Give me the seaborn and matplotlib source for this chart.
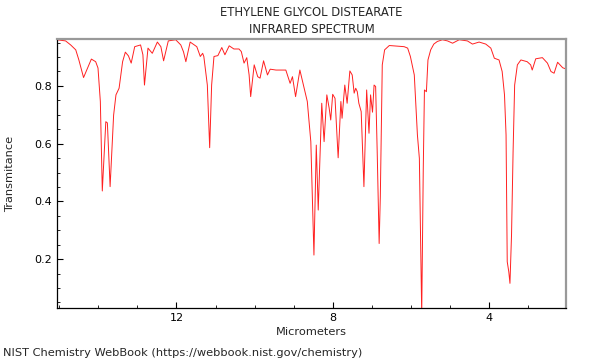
import matplotlib
matplotlib.use("Agg")
import matplotlib.pyplot as plt
from matplotlib.ticker import MultipleLocator
import pandas as pd
import seaborn as sns

# values
micrometers = [
    15.07, 14.84, 14.71, 14.58, 14.50, 14.38, 14.28, 14.18, 14.07, 14.01,
    13.95, 13.90, 13.81, 13.77, 13.70, 13.61, 13.55, 13.47, 13.38, 13.31,
    13.23, 13.16, 13.07, 12.92, 12.86, 12.82, 12.73, 12.62, 12.49, 12.40,
    12.33, 12.21, 12.02, 11.89, 11.82, 11.76, 11.65, 11.48, 11.39, 11.33,
    11.30, 11.21, 11.15, 11.10, 11.04, 10.94, 10.84, 10.76, 10.65, 10.53,
    10.40, 10.34, 10.27, 10.20, 10.14, 10.10, 10.01, 9.92, 9.86, 9.77,
    9.67, 9.60, 9.45, 9.20, 9.09, 9.03, 8.95, 8.84, 8.73, 8.65,
    8.56, 8.48, 8.42, 8.37, 8.28, 8.22, 8.15, 8.09, 8.05, 8.00,
    7.94, 7.86, 7.79, 7.76, 7.69, 7.63, 7.56, 7.50, 7.45, 7.41,
    7.37, 7.33, 7.27, 7.20, 7.13, 7.07, 7.03, 6.98, 6.94, 6.90,
    6.86, 6.81, 6.78, 6.75, 6.73, 6.67, 6.55, 6.17, 6.08, 6.01,
    5.91, 5.83, 5.78, 5.72, 5.68, 5.65, 5.60, 5.56, 5.49, 5.41,
    5.32, 5.19, 5.06, 4.93, 4.76, 4.55, 4.42, 4.25, 4.08, 3.95,
    3.86, 3.74, 3.66, 3.60, 3.56, 3.53, 3.49, 3.46, 3.42, 3.38,
    3.34, 3.27, 3.18, 3.02, 2.93, 2.89, 2.80, 2.63, 2.50, 2.41,
    2.33, 2.24, 2.11, 2.03,
]
transmittance = [
    0.960, 0.956, 0.942, 0.925, 0.890, 0.829, 0.861, 0.893, 0.884, 0.862,
    0.746, 0.436, 0.676, 0.672, 0.451, 0.699, 0.769, 0.792, 0.884, 0.917,
    0.904, 0.879, 0.936, 0.942, 0.908, 0.803, 0.931, 0.913, 0.952, 0.936,
    0.887, 0.956, 0.960, 0.942, 0.918, 0.884, 0.952, 0.936, 0.902, 0.913,
    0.902, 0.803, 0.586, 0.803, 0.902, 0.905, 0.933, 0.908, 0.939, 0.928,
    0.928, 0.919, 0.879, 0.898, 0.838, 0.763, 0.873, 0.832, 0.827, 0.887,
    0.838, 0.858, 0.855, 0.855, 0.809, 0.832, 0.763, 0.855, 0.792, 0.746,
    0.607, 0.214, 0.595, 0.370, 0.740, 0.607, 0.769, 0.723, 0.682, 0.771,
    0.757, 0.551, 0.746, 0.688, 0.803, 0.740, 0.852, 0.838, 0.775, 0.792,
    0.780, 0.740, 0.711, 0.451, 0.786, 0.636, 0.769, 0.709, 0.803, 0.798,
    0.572, 0.254, 0.416, 0.689, 0.873, 0.925, 0.940, 0.936, 0.931, 0.902,
    0.838, 0.630, 0.549, 0.010, 0.515, 0.786, 0.780, 0.890, 0.925, 0.945,
    0.954, 0.960, 0.956, 0.948, 0.960, 0.956, 0.945, 0.952, 0.945, 0.931,
    0.896, 0.890, 0.850, 0.769, 0.630, 0.191, 0.156, 0.116, 0.283, 0.572,
    0.803, 0.873, 0.890, 0.884, 0.873, 0.855, 0.894, 0.898, 0.879, 0.850,
    0.844, 0.882, 0.863, 0.859,
]

df = pd.DataFrame({"um": micrometers, "T": transmittance})

sns.set_style("white")
plt.rcParams["font.family"] = ["DejaVu Sans"]

fig = plt.figure(figsize=(6, 3.6), dpi=100)
ax = fig.add_axes([0.095, 0.144, 0.848, 0.748])

sns.lineplot(data=df, x="um", y="T", sort=False, color="#ff2020", lw=0.7, ax=ax)

ax.set_xlim(15.06, 2.03)
ax.set_ylim(0.03, 0.963)
ax.xaxis.set_major_locator(MultipleLocator(4))
ax.xaxis.set_minor_locator(MultipleLocator(1))
ax.yaxis.set_major_locator(MultipleLocator(0.2))
ax.yaxis.set_minor_locator(MultipleLocator(0.05))
ax.tick_params(which="both", direction="in", bottom=True, left=True,
               top=False, right=False, labelsize=8, colors="black")
ax.tick_params(which="major", length=4, width=0.8)
ax.tick_params(which="minor", length=2.5, width=0.6)

for side in ["left", "bottom"]:
    ax.spines[side].set_color("black")
    ax.spines[side].set_linewidth(0.9)
for side in ["top", "right"]:
    ax.spines[side].set_color("#999999")
    ax.spines[side].set_linewidth(1.6)

ax.set_xlabel("Micrometers", fontsize=8.2, labelpad=3)
ax.set_ylabel("Transmitance", fontsize=8.2, labelpad=14)
ax.set_title("ETHYLENE GLYCOL DISTEARATE\nINFRARED SPECTRUM", fontsize=8.4,
             linespacing=1.45, pad=4)
fig.text(0.005, 0.005, "NIST Chemistry WebBook (https://webbook.nist.gov/chemistry)",
         fontsize=8.2, ha="left", va="bottom")

fig.savefig("out.png", dpi=100)
